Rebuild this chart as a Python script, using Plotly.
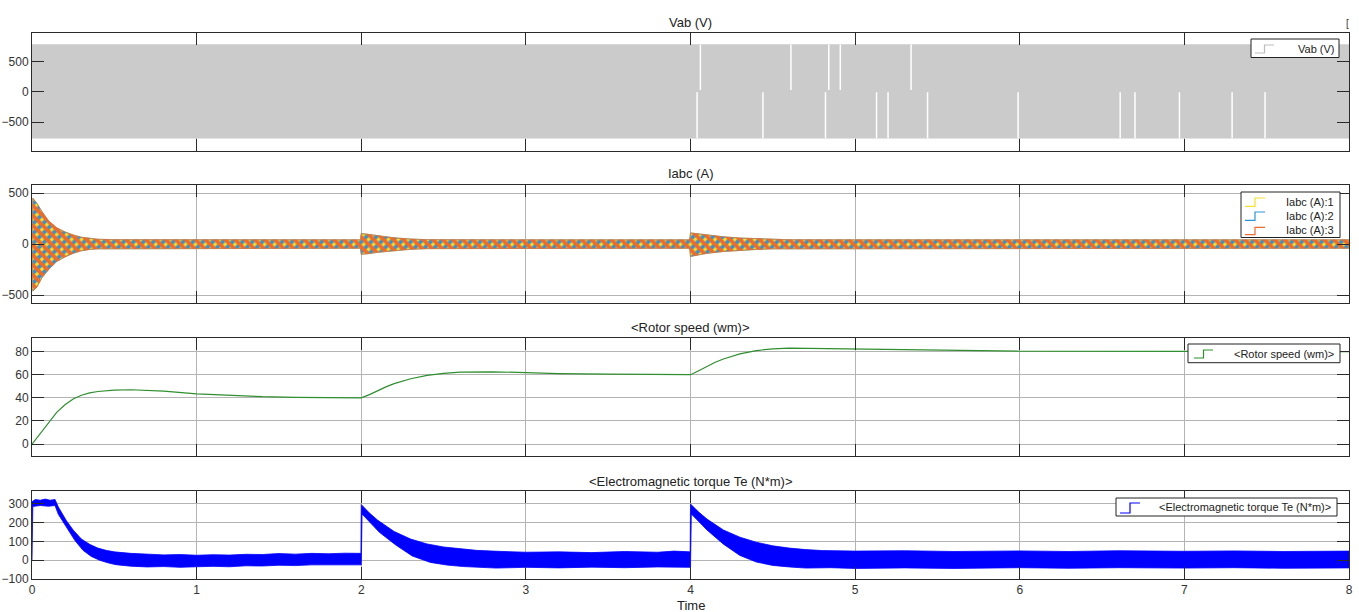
import plotly.graph_objects as go

# ---------------- data ----------------
x_ticks = [0, 1, 2, 3, 4, 5, 6, 7, 8]

# Vab (V): dense PWM band, envelope + white gap instants
vab_t = [0.0, 8.0]
vab_upper = [780, 780]
vab_lower = [-765, -765]
vab_gap_upper_t = [4.06, 4.61, 4.84, 4.91, 5.34]
vab_gap_lower_t = [4.04, 4.44, 4.82, 5.13, 5.20, 5.44, 5.99, 6.61, 6.70, 6.97, 7.29, 7.49]

# Iabc (A): oscillation envelope (upper / lower)
iabc_t = [0.0, 0.005, 0.03, 0.06, 0.1, 0.15, 0.2, 0.25, 0.3, 0.35, 0.4, 0.5, 1.0, 1.5, 1.995,
          2.0, 2.05, 2.1, 2.2, 2.3, 2.4, 3.0, 3.5, 3.995,
          4.0, 4.05, 4.1, 4.2, 4.3, 4.4, 4.5, 4.6, 5.0, 6.0, 7.0, 8.0]
iabc_upper = [0, 450, 400, 320, 230, 160, 120, 90, 68, 55, 48, 44, 42, 42, 42,
              105, 95, 80, 62, 50, 44, 42, 42, 42,
              110, 100, 88, 72, 60, 52, 46, 43, 42, 42, 42, 42]
iabc_lower = [0, -460, -420, -330, -250, -170, -125, -90, -65, -52, -46, -42, -40, -40, -40,
              -100, -92, -80, -62, -50, -44, -40, -40, -40,
              -120, -105, -90, -72, -60, -52, -46, -43, -40, -40, -40, -40]

# Rotor speed (wm)
speed_t = [0.0, 0.05, 0.1, 0.15, 0.2, 0.25, 0.3, 0.35, 0.4, 0.5, 0.6, 0.8, 1.0, 1.2, 1.4, 1.6, 1.8, 2.0,
           2.05, 2.1, 2.15, 2.2, 2.3, 2.4, 2.5, 2.6, 2.8, 3.0, 3.2, 3.5, 3.8, 4.0,
           4.05, 4.1, 4.15, 4.2, 4.3, 4.4, 4.5, 4.6, 4.8, 5.0, 5.5, 6.0, 7.0, 8.0]
speed_w = [0, 9, 19, 27.5, 34, 39, 42.3, 44.3, 45.5, 46.6, 47, 45.8, 43.5, 42, 41, 40.5, 40.2, 40,
           42.8, 46.3, 49.5, 52.3, 56.5, 59.4, 61.2, 62.2, 62.5, 61.8, 61, 60.5, 60.2, 60,
           63.5, 67.5, 70.8, 73.6, 78, 80.9, 82.4, 83, 82.6, 81.8, 80.8, 80.3, 80.1, 80]

# Electromagnetic torque Te (N*m): noisy band envelope
te_up_t = [0.0, 0.02, 0.05, 0.08, 0.11, 0.14, 0.16, 0.18, 0.21, 0.25, 0.3, 0.35, 0.4, 0.45, 0.5,
           0.6, 0.7, 0.8, 0.9, 1.0, 1.1, 1.2, 1.3, 1.4, 1.5, 1.6, 1.7, 1.8, 1.9, 1.998,
           2.0, 2.05, 2.1, 2.15, 2.2, 2.3, 2.4, 2.5, 2.6, 2.7, 2.8, 2.9, 3.0, 3.2, 3.4, 3.6, 3.8, 3.9, 3.998,
           4.0, 4.05, 4.1, 4.15, 4.2, 4.3, 4.4, 4.5, 4.6, 4.7, 4.8, 5.0, 5.3, 5.6, 6.0, 6.3, 6.6, 7.0, 7.3, 7.6, 8.0]
te_up = [310, 322, 318, 324, 318, 322, 282, 250, 208, 160, 112, 84, 64, 52, 44,
         36, 31, 28, 30, 26, 29, 27, 31, 30, 35, 32, 36, 34, 37, 36,
         295, 250, 212, 180, 152, 112, 86, 70, 60, 52, 48, 44, 42, 44, 40, 46, 42, 48, 44,
         298, 255, 218, 188, 160, 122, 95, 76, 64, 56, 51, 48, 50, 46, 49, 46, 50, 47, 49, 46, 48]
te_lo_t = [0.0, 0.005, 0.05, 0.1, 0.14, 0.16, 0.21, 0.26, 0.31, 0.36, 0.41, 0.46, 0.51, 0.6, 0.7,
           0.8, 0.9, 1.0, 1.1, 1.2, 1.3, 1.4, 1.5, 1.6, 1.7, 1.8, 1.9, 2.0,
           2.005, 2.05, 2.11, 2.21, 2.31, 2.42, 2.52, 2.62, 2.72, 2.82, 3.0, 3.2, 3.4, 3.6, 3.8, 4.0,
           4.005, 4.05, 4.1, 4.2, 4.3, 4.4, 4.5, 4.6, 4.7, 4.85, 5.0, 5.3, 5.6, 6.0, 6.3, 6.6, 7.0, 7.3, 7.6, 8.0]
te_lo = [0, 285, 290, 286, 290, 243, 174, 105, 52, 20, 0, -14, -24, -32, -36,
         -34, -38, -35, -33, -35, -30, -31, -27, -29, -25, -27, -24, -25,
         245, 205, 148, 80, 22, -12, -26, -34, -39, -42, -38, -41, -37, -40, -36, -38,
         245, 205, 160, 85, 25, -10, -28, -36, -42, -40, -44, -41, -44, -40, -43, -40, -42, -40, -43, -41]

# legend labels
vab_name = "Vab (V)"
iabc_names = ["Iabc (A):1", "Iabc (A):2", "Iabc (A):3"]
speed_name = "<Rotor speed (wm)>"
te_name = "<Electromagnetic torque Te (N*m)>"

# ---------------- figure ----------------
W, H = 1359, 612
ML, MR, MT, MB = 32, 10, 33, 33
PW = W - ML - MR
PH = H - MT - MB


def py(pix):
    return (H - MB - pix) / PH


def px(pix):
    return (pix - ML) / PW


def clamp(v):
    return max(0.0, min(1.0, v))


def esc(s):
    return s.replace("<", "&lt;").replace(">", "&gt;")


FONT = "Liberation Sans, Arial, sans-serif"
GRID = "#b4b4b4"
FRAME = "#2a2a2a"
VAB_COL = "#cbcbcb"
PHASE_COLS = ["#f4e12a", "#2a96d8", "#f06a2c"]
SPEED_COL = "#2f8f2f"
TE_COL = "#0000ff"

fig = go.Figure()

# ---- panel 1: Vab ----
fig.add_trace(go.Scatter(x=vab_t + vab_t[::-1], y=vab_upper + vab_lower[::-1], fill="toself",
                         fillcolor=VAB_COL, line=dict(color=VAB_COL, width=0.5),
                         mode="lines", showlegend=False, hoverinfo="skip", xaxis="x", yaxis="y"))
gx, gy = [], []
for t in vab_gap_upper_t:
    gx += [t, t, None]
    gy += [vab_upper[0], 30, None]
for t in vab_gap_lower_t:
    gx += [t, t, None]
    gy += [-5, vab_lower[0], None]
fig.add_trace(go.Scatter(x=gx, y=gy, mode="lines", line=dict(color="white", width=1.5),
                         showlegend=False, hoverinfo="skip", xaxis="x", yaxis="y"))

# ---- panel 2: Iabc ----
phase_pat = ["", "/", "\\"]
for i, col in enumerate(PHASE_COLS):
    kw = {}
    if phase_pat[i]:
        kw["fillpattern"] = dict(shape=phase_pat[i], fgcolor=col, size=7, solidity=0.55,
                                 fillmode="replace")
        kw["fillcolor"] = "rgba(0,0,0,0)"
    else:
        kw["fillcolor"] = col
    fig.add_trace(go.Scatter(x=iabc_t + iabc_t[::-1], y=iabc_upper + iabc_lower[::-1],
                             fill="toself", mode="lines", line=dict(color=col, width=0.6),
                             name=iabc_names[i], showlegend=False, hoverinfo="skip",
                             xaxis="x2", yaxis="y2", **kw))

# ---- panel 3: rotor speed ----
fig.add_trace(go.Scatter(x=speed_t, y=speed_w, mode="lines", line=dict(color=SPEED_COL, width=1.2),
                         name=speed_name, showlegend=False, xaxis="x3", yaxis="y3"))

# ---- panel 4: torque ----
fig.add_trace(go.Scatter(x=te_up_t + te_lo_t[::-1], y=te_up + te_lo[::-1], fill="toself",
                         fillcolor=TE_COL, line=dict(color=TE_COL, width=0.8), mode="lines",
                         name=te_name, showlegend=False, hoverinfo="skip", xaxis="x4", yaxis="y4"))

# ---- axes ----
panels = [  # (top px, bottom px, y range, y ticks)
    (33.0, 150.7, [-970, 970], [-500, 0, 500]),
    (185.0, 303.3, [-580, 580], [-500, 0, 500]),
    (337.7, 455.7, [-10, 92], [0, 20, 40, 60, 80]),
    (491.0, 579.0, [-100, 367], [-100, 0, 100, 200, 300]),
]
common = dict(showline=True, linecolor=FRAME, linewidth=1, mirror="ticks", ticks="inside",
              ticklen=12, tickwidth=1, tickcolor=FRAME, showgrid=True, gridcolor=GRID,
              gridwidth=1, zeroline=False, automargin=False,
              tickfont=dict(family=FONT, size=12, color="#333333"))
layout = {}
for i, (top, bot, yr, yt) in enumerate(panels):
    sfx = "" if i == 0 else str(i + 1)
    layout["xaxis" + sfx] = dict(domain=[0, 1], range=[0, 8], tickvals=x_ticks,
                                 ticktext=[str(v) for v in x_ticks],
                                 showticklabels=(i == 3), anchor="y" + sfx, **common)
    layout["yaxis" + sfx] = dict(domain=[clamp(py(bot)), clamp(py(top))], range=yr, tickvals=yt,
                                 anchor="x" + sfx, **common)

# ---- MATLAB-style legends drawn as shapes + text ----
shapes, ann = [], []


def legend_box(x0, x1, y0, y1):
    shapes.append(dict(type="rect", xref="paper", yref="paper", x0=px(x0), x1=px(x1),
                       y0=py(y1), y1=py(y0), line=dict(color="#222222", width=1),
                       fillcolor="white", layer="above"))


def legend_item(ix0, ix1, ylo, yhi, color, text, tx, ty):
    xm = (ix0 + ix1) / 2
    path = (f"M {px(ix0)},{py(ylo)} L {px(xm)},{py(ylo)} L {px(xm)},{py(yhi)} "
            f"L {px(ix1)},{py(yhi)}")
    shapes.append(dict(type="path", xref="paper", yref="paper", path=path,
                       line=dict(color=color, width=1.2), layer="above"))
    ann.append(dict(text=esc(text), x=px(tx), y=py(ty), xref="paper", yref="paper",
                    xanchor="right", yanchor="middle", showarrow=False,
                    font=dict(family=FONT, size=11, color="#222222")))


legend_box(1251, 1339, 39, 57.5)
legend_item(1255, 1274, 53, 45, "#bdbdbd", vab_name, 1336, 48.5)

legend_box(1241, 1340, 192, 237.5)
for i, (yl, yh, ty) in enumerate([(206.3, 198, 202), (220.3, 212, 215.5), (234.7, 227.3, 230.3)]):
    legend_item(1245, 1265, yl, yh, PHASE_COLS[i], iabc_names[i], 1335.5, ty)

legend_box(1188, 1340, 344, 362.7)
legend_item(1194, 1213, 358, 350, SPEED_COL, speed_name, 1336, 354)

legend_box(1116, 1337, 498, 516)
legend_item(1120, 1140, 513, 503, TE_COL, te_name, 1333, 507)

# ---- titles ----
titles = [("Vab (V)", 22), ("Iabc (A)", 174), ("<Rotor speed (wm)>", 327),
          ("<Electromagnetic torque Te (N*m)>", 481)]
for txt, ypix in titles:
    ann.append(dict(text=esc(txt), x=0.5, xref="paper", y=py(ypix), yref="paper",
                    showarrow=False, xanchor="center", yanchor="middle",
                    font=dict(family=FONT, size=13, color="#222222")))
ann.append(dict(text="Time", x=0.5, xref="paper", y=py(605), yref="paper", showarrow=False,
                xanchor="center", yanchor="middle", font=dict(family=FONT, size=13, color="#222222")))
ann.append(dict(text="[", x=px(1351), xref="paper", y=py(16), yref="paper",
                showarrow=False, font=dict(family=FONT, size=10, color="#333333")))

fig.update_layout(width=W, height=H, margin=dict(l=ML, r=MR, t=MT, b=MB, autoexpand=False),
                  paper_bgcolor="white", plot_bgcolor="white", annotations=ann, shapes=shapes,
                  showlegend=False, font=dict(family=FONT), **layout)

fig.write_html("out.html", config={"displayModeBar": False, "staticPlot": True},
               post_script="document.body.style.margin='0';document.body.style.overflow='hidden';")
